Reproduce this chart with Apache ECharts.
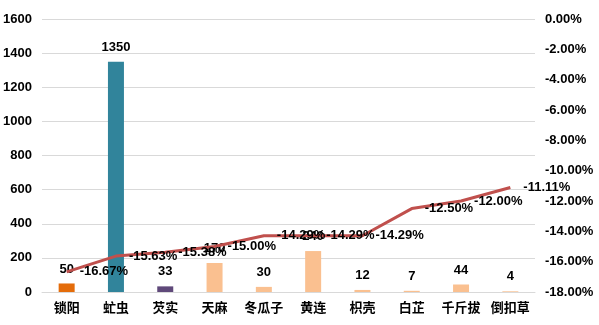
<!DOCTYPE html>
<html><head><meta charset="utf-8">
<script src="https://cdn.jsdelivr.net/npm/echarts@6/dist/echarts.min.js"></script>
<style>html,body{margin:0;padding:0;background:#fff}#c{width:599px;height:325px}</style>
</head><body><div id="c"></div>
<script>
const categories = ['锁阳','虻虫','芡实','天麻','冬瓜子','黄连','枳壳','白芷','千斤拔','倒扣草'];
const barValues = [50, 1350, 33, 170, 30, 240, 12, 7, 44, 4];
const lineValues = [-16.67, -15.63, -15.38, -15.00, -14.29, -14.29, -14.29, -12.50, -12.00, -11.11];
const barColors = ['#E46C0A','#31849B','#5F497A','#FAC090','#FAC090','#FAC090','#FAC090','#FAC090','#FAC090','#FAC090'];

const cjk = '"Noto Sans CJK SC", sans-serif';
const num = '"Liberation Sans", Arial, sans-serif';
const chart = echarts.init(document.getElementById('c'));
chart.setOption({
  animation: false,
  grid: {left: 42, right: 64, top: 19, bottom: 33, containLabel: false},
  xAxis: {
    type: 'category', data: categories,
    axisLine: {lineStyle: {color: '#D9D9D9'}},
    axisTick: {show: false},
    axisLabel: {color: '#000', fontWeight: 'bold', fontSize: 13, fontFamily: cjk, margin: 9, interval: 0}
  },
  yAxis: [
    {type: 'value', min: 0, max: 1600, interval: 200,
     axisLine: {show: false}, axisTick: {show: false},
     splitLine: {lineStyle: {color: '#D9D9D9'}},
     axisLabel: {color: '#000', fontWeight: 'bold', fontSize: 13, fontFamily: num, margin: 10,
       formatter: v => String(v)}},
    {type: 'value', min: -18, max: 0, interval: 2,
     axisLine: {show: false}, axisTick: {show: false}, splitLine: {show: false},
     axisLabel: {color: '#000', fontWeight: 'bold', fontSize: 13, fontFamily: num, margin: 10,
       formatter: v => v.toFixed(2) + '%'}}
  ],
  series: [
    {type: 'bar', yAxisIndex: 0, barWidth: 16,
     data: barValues.map((v, i) => ({value: v, itemStyle: {color: barColors[i]}})),
     label: {show: true, position: 'top', distance: 8, color: '#000', fontWeight: 'bold', fontSize: 13, fontFamily: num}},
    {type: 'line', yAxisIndex: 1, data: lineValues, showSymbol: true, symbol: 'circle', symbolSize: 2, z: 5,
     itemStyle: {color: 'transparent', borderWidth: 0},
     lineStyle: {color: '#C0504D', width: 3},
     label: {show: true, position: 'right', distance: 12, color: '#000', fontWeight: 'bold', fontSize: 13,
       fontFamily: num, formatter: p => p.value.toFixed(2) + '%'}}
  ]
});
</script></body></html>
